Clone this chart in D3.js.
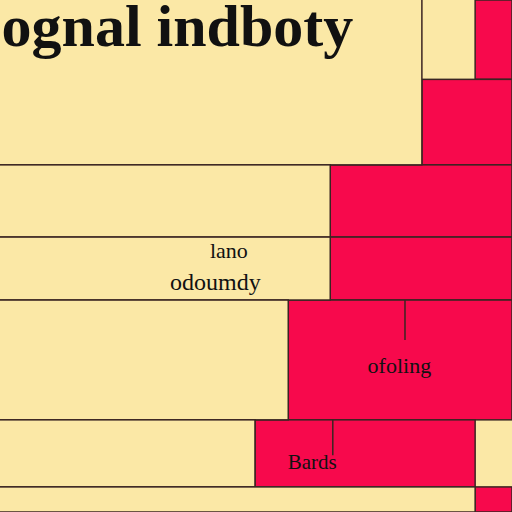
<!DOCTYPE html><html><head><meta charset="utf-8">
<script src="https://cdn.jsdelivr.net/npm/d3@7"></script>
<style>body{margin:0;background:#fbe8a6}</style></head><body>
<svg id="c" width="512" height="512"></svg>
<script>
const rowTop    = [0, 15.5, 32.2, 46.3, 58.6, 82, 95.1];
const rowBottom = [15.5, 32.2, 46.3, 58.6, 82, 95.1, 100];
const yellowTop = [0, -1, 32.2, 46.3, 58.6, 82, 95.1];
const yellowVal = [92.8, 82.4, 64.5, 64.5, 56.3, 49.8, 92.8];
const redEnd    = [100, 100, 100, 100, 100, 92.8, 100];
const labels = [
  {t:"ognal indboty", x:0.3, y:9, s:60},
  {t:"lano", x:41, y:50.4, s:22},
  {t:"odoumdy", x:33.2, y:56.6, s:24},
  {t:"ofoling", x:71.8, y:72.8, s:22},
  {t:"Bards", x:56.2, y:91.6, s:21}
];
const ticks = [{x:79.1,y0:58.6,y1:66.4},{x:65,y0:82,y1:88.9}];
const x = d3.scaleLinear([0,100],[0,512]);
const y = d3.scaleLinear([0,100],[0,512]);
const svg = d3.select("#c");
const rows = d3.range(rowTop.length);
svg.selectAll(".r").data(rows).join("rect")
  .attr("x",i=>x(yellowVal[i])).attr("y",i=>y(rowTop[i]))
  .attr("width",i=>x(redEnd[i])-x(yellowVal[i])).attr("height",i=>y(rowBottom[i])-y(rowTop[i]))
  .attr("fill","#f7094c").attr("stroke","#3a2522").attr("stroke-width",1.5);
svg.selectAll(".y").data(rows.slice(1)).join("rect")
  .attr("x",-2).attr("y",i=>y(yellowTop[i]))
  .attr("width",i=>x(yellowVal[i])+2).attr("height",i=>y(rowBottom[i])-y(yellowTop[i]))
  .attr("fill","#fbe8a6").attr("stroke","#3a2522").attr("stroke-width",1.5);
svg.selectAll(".t").data(ticks).join("line")
  .attr("x1",d=>x(d.x)).attr("x2",d=>x(d.x)).attr("y1",d=>y(d.y0)).attr("y2",d=>y(d.y1))
  .attr("stroke","#3a2522").attr("stroke-width",1.5);
svg.selectAll(".l").data(labels).join("text")
  .attr("x",d=>x(d.x)).attr("y",d=>y(d.y)).attr("font-size",d=>d.s)
  .attr("font-family","Liberation Serif, serif").attr("fill","#111")
  .attr("font-weight",(d,i)=>i==0?"bold":"normal").text(d=>d.t);
</script></body></html>
